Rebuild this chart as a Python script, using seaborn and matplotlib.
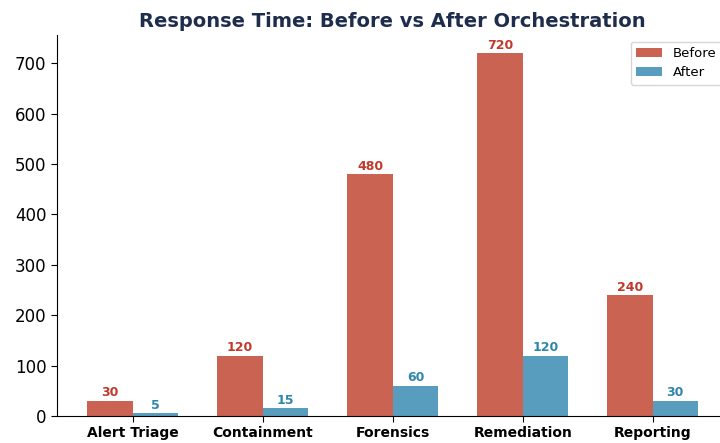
import matplotlib
matplotlib.use("Agg")
import matplotlib.pyplot as plt
import seaborn as sns
import pandas as pd

# Response times (minutes)
stages = ['Alert Triage', 'Containment', 'Forensics', 'Remediation', 'Reporting']
before = [30, 120, 480, 720, 240]
after = [5, 15, 60, 120, 30]

df = pd.DataFrame({
    'Stage': stages * 2,
    'Time': before + after,
    'Phase': ['Before'] * len(stages) + ['After'] * len(stages),
})

sns.set_style("white")
plt.rcParams['text.color'] = 'black'
fig = plt.figure(figsize=(7.2, 4.43), dpi=100)
ax = fig.add_axes([0.079, 0.061, 0.933, 0.86])

palette = {'Before': '#cb6353', 'After': '#589dbe'}
sns.barplot(data=df, x='Stage', y='Time', hue='Phase', palette=palette,
            width=0.7, gap=0, saturation=1, linewidth=0, ax=ax)

label_colors = {'Before': '#c0392b', 'After': '#2e86ab'}
for cont, phase in zip(ax.containers, ['Before', 'After']):
    ax.bar_label(cont, padding=1, fontsize=9, fontweight='bold',
                 color=label_colors[phase])

ax.set_xlim(-0.585, 4.585)
ax.set_title('Response Time: Before vs After Orchestration', fontsize=14,
             fontweight='bold', color='#1f2d4d')
ax.set_xlabel('')
ax.set_ylabel('')
ax.tick_params(axis='y', labelsize=12, length=4)
ax.tick_params(axis='x', labelsize=10, length=4)
for t in ax.get_xticklabels():
    t.set_fontweight('bold')
sns.despine(ax=ax)
ax.spines['left'].set_color('black')
ax.spines['bottom'].set_color('black')
ax.tick_params(axis='both', colors='black', labelcolor='black', bottom=True, left=True)
leg = ax.legend(title=None, loc='upper right', fontsize=9.5)
for t in leg.get_texts():
    t.set_color('black')

fig.savefig('out.png', dpi=100)
